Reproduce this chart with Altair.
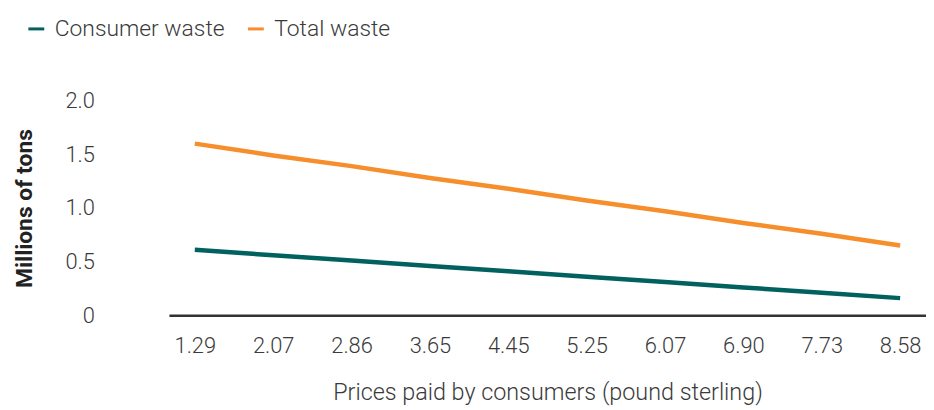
import altair as alt
import pandas as pd

prices = ["1.29", "2.07", "2.86", "3.65", "4.45", "5.25", "6.07", "6.90", "7.73", "8.58"]
consumer_waste = [0.61, 0.56, 0.51, 0.46, 0.41, 0.36, 0.31, 0.26, 0.21, 0.16]
total_waste = [1.60, 1.49, 1.39, 1.28, 1.18, 1.07, 0.97, 0.86, 0.76, 0.65]
series = ["Consumer waste", "Total waste"]
colors = ["#00615f", "#f68e2c"]
y_ticks = [0, 0.5, 1.0, 1.5, 2.0]

rows = []
for p, c, t in zip(prices, consumer_waste, total_waste):
    rows.append({"price": p, "series": series[0], "value": c})
    rows.append({"price": p, "series": series[1], "value": t})
df = pd.DataFrame(rows)

FONT = "Roboto"
TXT = "#3a3a3a"

chart = alt.Chart(df).mark_line(strokeWidth=4.5).encode(
    x=alt.X(
        "price:O",
        sort=prices,
        scale=alt.Scale(type="point", padding=0.33),
        axis=alt.Axis(
            title="Prices paid by consumers (pound sterling)",
            labelAngle=0, ticks=False, grid=False,
            domainColor="#333333", domainWidth=2.5,
            labelPadding=20, titlePadding=25,
            labelFontSize=22, titleFontSize=23.5,
            labelFont=FONT, titleFont=FONT,
            labelFontWeight=300, titleFontWeight=300,
            labelColor=TXT, titleColor=TXT,
        ),
    ),
    y=alt.Y(
        "value:Q",
        scale=alt.Scale(domain=[0, 2]),
        axis=alt.Axis(
            values=y_ticks,
            labelExpr="datum.value == 0 ? '0' : format(datum.value, '.1f')",
            domain=False, ticks=False, grid=False,
            labelPadding=75, titlePadding=29,
            title="Millions of tons",
            labelFontSize=22, titleFontSize=23,
            labelFont=FONT, titleFont=FONT,
            labelFontWeight=300, titleFontWeight="bold",
            labelColor=TXT, titleColor="#222222",
        ),
    ),
    color=alt.Color(
        "series:N",
        scale=alt.Scale(domain=series, range=colors),
        legend=alt.Legend(
            orient="none", legendX=-145, legendY=-84,
            direction="horizontal", title=None,
            symbolType="stroke", symbolStrokeWidth=3, symbolSize=256,
            labelFontSize=23, labelFont=FONT, labelFontWeight=300,
            labelColor=TXT, columnPadding=16, labelOffset=7, labelLimit=400,
        ),
    ),
).properties(
    width=762, height=216,
    padding={"left": 162, "top": 92, "right": 0, "bottom": 94},
    autosize=alt.AutoSizeParams(type="none"),
).configure_view(stroke=None)

chart.save("out.html", embed_options={"renderer": "svg", "actions": False})
